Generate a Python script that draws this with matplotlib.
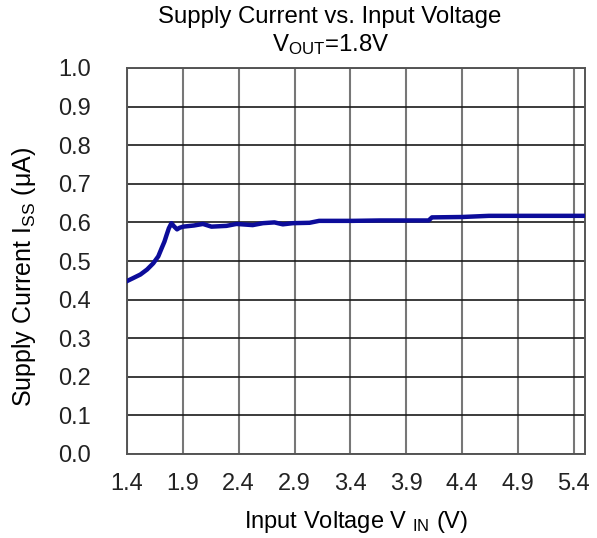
import matplotlib
matplotlib.use('Agg')
import matplotlib.pyplot as plt

plt.rcParams['font.family'] = ['Liberation Sans', 'DejaVu Sans']
plt.rcParams['mathtext.fontset'] = 'custom'
plt.rcParams['mathtext.rm'] = 'Liberation Sans'
plt.rcParams['mathtext.default'] = 'regular'

# --- Data ---
vin = [1.40, 1.45, 1.52, 1.58, 1.635, 1.68, 1.71, 1.735, 1.754, 1.775, 1.798, 1.82,
       1.848, 1.87, 1.903, 2.00, 2.08, 2.156, 2.29, 2.38, 2.525, 2.617, 2.72, 2.795,
       2.885, 3.034, 3.12, 3.42, 3.66, 3.90, 4.10, 4.13, 4.40, 4.64, 5.00, 5.50]
iss = [0.448, 0.455, 0.465, 0.478, 0.494, 0.512, 0.533, 0.550, 0.567, 0.585, 0.598, 0.590,
       0.582, 0.586, 0.589, 0.592, 0.596, 0.589, 0.591, 0.596, 0.593, 0.598, 0.600, 0.595,
       0.598, 0.599, 0.604, 0.604, 0.605, 0.605, 0.605, 0.613, 0.614, 0.617, 0.617, 0.617]

x_ticks = [1.4, 1.9, 2.4, 2.9, 3.4, 3.9, 4.4, 4.9, 5.4]
y_ticks = [0.0, 0.1, 0.2, 0.3, 0.4, 0.5, 0.6, 0.7, 0.8, 0.9, 1.0]

fig = plt.figure(figsize=(5.97, 5.38), dpi=100)
ax = fig.add_axes([127 / 597, 1 - 454 / 538, (585 - 127) / 597, (454 - 68) / 538])

ax.plot(vin, iss, color='#0c0c9a', lw=3.2, solid_joinstyle='round', zorder=3)

ax.set_xlim(1.4, 5.5)
ax.set_ylim(0.0, 1.0)
ax.set_xticks(x_ticks)
ax.set_xticklabels([f'{t:.1f}' for t in x_ticks])
ax.set_yticks(y_ticks)
ax.set_yticklabels([f'{t:.1f}' for t in y_ticks])
ax.tick_params(length=0, labelsize=17, colors='#222222')
ax.tick_params(axis='x', pad=14)
ax.tick_params(axis='y', pad=26)

ax.xaxis.grid(True, color='#777777', lw=1.5)
ax.yaxis.grid(True, color='#1a1a1a', lw=1.2)
for s in ax.spines.values():
    s.set_color('#555555')
    s.set_linewidth(1.4)

ax.set_xlabel('Input Voltage V $_{IN}$ (V)', fontsize=17, labelpad=10)

# y label placed in figure pixels so it stays inside the canvas
fig.text(24 / 597, 1 - 277 / 538, 'Supply Current I$_{SS}$ (\u03bcA)',
         rotation=90, ha='center', va='center', fontsize=18)

fig.text(330 / 597, 1 - 17 / 538, 'Supply Current vs. Input Voltage',
         ha='center', va='center', fontsize=17.3)
fig.text(331 / 597, 1 - 45 / 538, 'V$_{OUT}$=1.8V',
         ha='center', va='center', fontsize=17.3)

fig.savefig('out.png', dpi=100)
